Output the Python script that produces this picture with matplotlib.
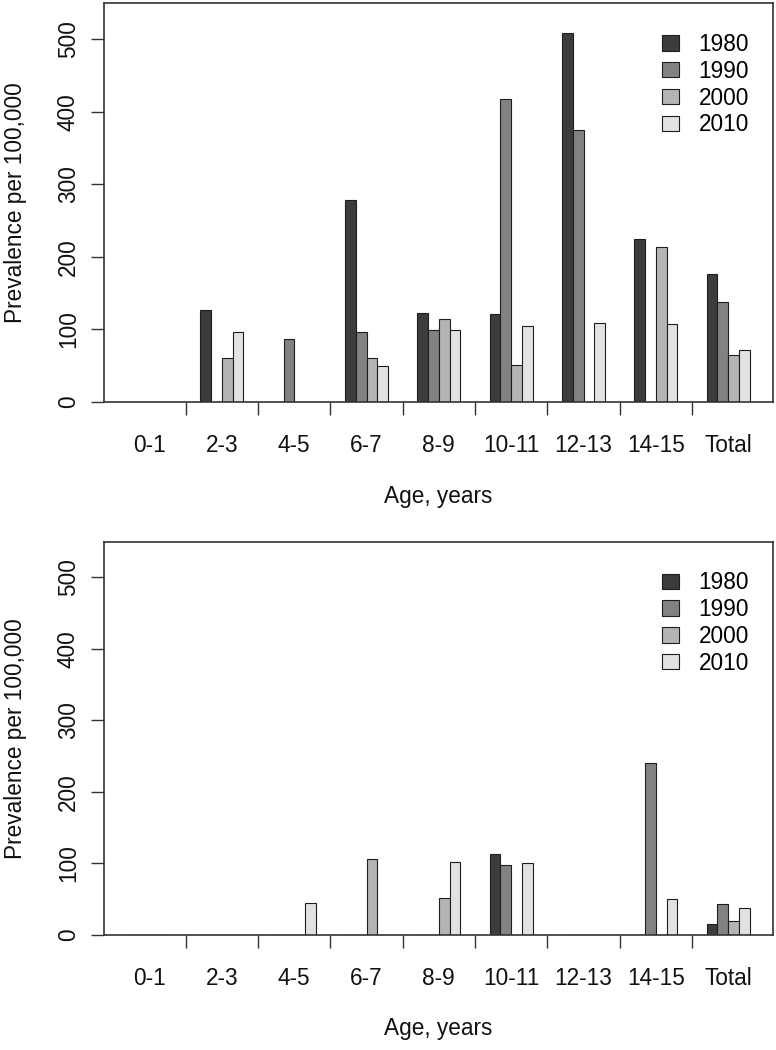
import numpy as np
import matplotlib
matplotlib.use('Agg')
import matplotlib.pyplot as plt

plt.rcParams['font.family'] = ['Liberation Sans', 'DejaVu Sans']

age_groups = ['0-1', '2-3', '4-5', '6-7', '8-9', '10-11', '12-13', '14-15', 'Total']
years = ['1980', '1990', '2000', '2010']
colors = ['#3c3c3c', '#828282', '#b4b4b4', '#e2e2e2']

# top panel, prevalence per 100,000 by decade
top_1980 = [0, 127, 0, 278, 123, 121, 509, 225, 176]
top_1990 = [0, 0, 86, 96, 99, 418, 375, 0, 137]
top_2000 = [0, 60, 0, 60, 114, 50, 0, 213, 64]
top_2010 = [0, 96, 0, 49, 99, 104, 109, 107, 71]

# bottom panel
bot_1980 = [0, 0, 0, 0, 0, 113, 0, 0, 15]
bot_1990 = [0, 0, 0, 0, 0, 98, 0, 241, 44]
bot_2000 = [0, 0, 0, 106, 52, 0, 0, 0, 20]
bot_2010 = [0, 0, 45, 0, 102, 101, 0, 51, 38]

FS = 16.3
W_PX, H_PX = 776, 1050
fig = plt.figure(figsize=(W_PX / 100, H_PX / 100), dpi=100)

def px_axes(left, top, right, bottom):
    return fig.add_axes([left / W_PX, 1 - bottom / H_PX,
                         (right - left) / W_PX, (bottom - top) / H_PX])

ax_top = px_axes(104, 3, 773, 401.7)
ax_bot = px_axes(104, 541.7, 773, 935)

def draw_panel(ax, series):
    x = np.arange(len(age_groups))
    w = 0.148
    for j, vals in enumerate(series):
        ax.bar(x + (j - 1.5) * w, vals, width=w, color=colors[j],
               edgecolor='#1e1e1e', linewidth=0.8, label=years[j], zorder=2)
    ax.set_xlim(-0.63, 8.62)
    ax.set_ylim(0, 550)
    ax.set_yticks([0, 100, 200, 300, 400, 500])
    ax.set_xticks(x)
    ax.set_xticklabels(age_groups, fontsize=FS, color='#111111')
    ax.set_xticks(x[:-1] + 0.5, minor=True)
    ax.tick_params(axis='x', which='major', length=0, pad=23)
    ax.tick_params(axis='x', which='minor', length=9.4, width=1.0, color='#333333')
    ax.tick_params(axis='y', length=9.4, width=1.0, color='#333333', pad=8,
                   labelsize=FS, labelcolor='#111111', labelrotation=90)
    for lbl in ax.get_yticklabels():
        lbl.set_va('center')
    for sp in ax.spines.values():
        sp.set_linewidth(1.2)
        sp.set_color('#333333')
    ax.set_ylabel('Prevalence per 100,000', fontsize=FS, color='#111111')
    ax.yaxis.set_label_coords(-0.133, 0.5)
    ax.yaxis.label.set_va('center')
    ax.set_xlabel('Age, years', fontsize=FS, color='#111111')
    ax.xaxis.set_label_coords(0.5, -0.238)
    ax.xaxis.label.set_va('center')
    ax.legend(loc='upper right', bbox_to_anchor=(0.964, 0.925), frameon=False,
              fontsize=FS, handlelength=0.76, handleheight=0.66,
              handletextpad=0.85, labelspacing=0.17, borderaxespad=0, borderpad=0)

draw_panel(ax_top, [top_1980, top_1990, top_2000, top_2010])
draw_panel(ax_bot, [bot_1980, bot_1990, bot_2000, bot_2010])

fig.savefig('out.png', dpi=100)
